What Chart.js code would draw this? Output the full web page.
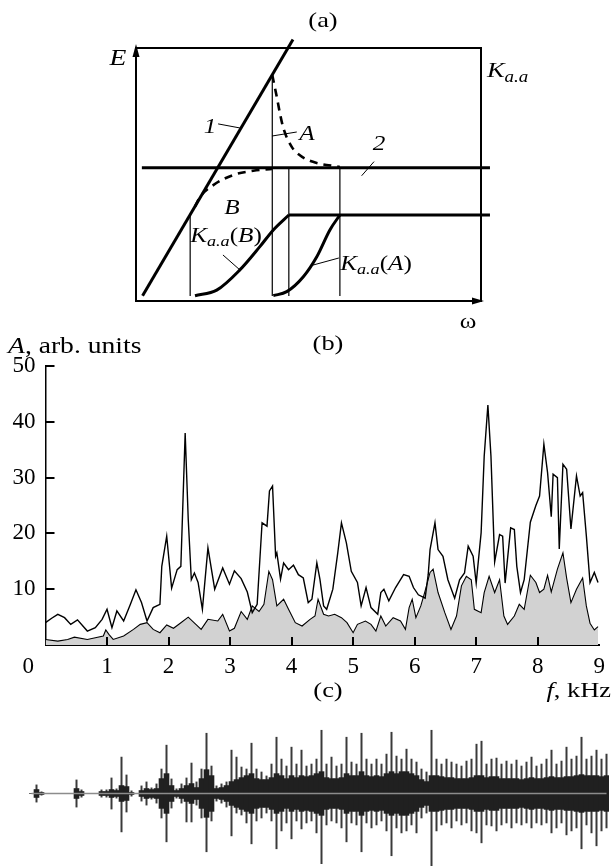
<!DOCTYPE html>
<html><head><meta charset="utf-8">
<script src="https://cdn.jsdelivr.net/npm/chart.js@4.4.1/dist/chart.umd.min.js"></script>
<style>
html,body{margin:0;padding:0;background:#fff;}
#page{position:relative;width:613px;height:867px;overflow:hidden;background:#fff;font-family:'Liberation Serif','Times New Roman',serif;color:#000;}
canvas{position:absolute;left:0;}
.lbl{position:absolute;font-size:21px;line-height:1;white-space:nowrap;transform:translate(-50%,-50%) scaleX(1.2);}
.lbl.l{transform:translate(0,-50%) scaleX(1.2);transform-origin:left center;}
.lbl.r{transform:translate(-100%,-50%) scaleX(1.2);transform-origin:right center;}
.lbl sub{font-size:0.72em;vertical-align:-0.3em;line-height:0;}
</style></head><body>
<div id="page">
<canvas id="ca" width="613" height="330" style="top:0"></canvas>
<canvas id="cb" width="613" height="380" style="top:340px"></canvas>
<canvas id="cc" width="613" height="147" style="top:720px"></canvas>

<div class="lbl" style="left:323px;top:20px;font-size:22px">(a)</div>
<div class="lbl" style="left:118px;top:57px;font-size:23px"><i>E</i></div>
<div class="lbl l" style="left:487px;top:70px;font-size:22px"><i>K</i><sub><i>a.a</i></sub></div>
<div class="lbl" style="left:468px;top:321px">ω</div>
<div class="lbl" style="left:210px;top:126px"><i>1</i></div>
<div class="lbl" style="left:307px;top:133px"><i>A</i></div>
<div class="lbl" style="left:379px;top:143px"><i>2</i></div>
<div class="lbl" style="left:232px;top:207px"><i>B</i></div>
<div class="lbl" style="left:226px;top:235px"><i>K</i><sub><i>a.a</i></sub>(<i>B</i>)</div>
<div class="lbl" style="left:376px;top:263px"><i>K</i><sub><i>a.a</i></sub>(<i>A</i>)</div>
<div class="lbl" style="left:328px;top:343px;font-size:22px">(b)</div>
<div class="lbl l" style="left:8px;top:345px;font-size:23px"><i>A</i>, arb. units</div>
<div class="lbl" style="left:328px;top:690px;font-size:22px">(c)</div>
<div class="lbl r" style="left:611px;top:690px;font-size:22px"><i>f</i>, kHz</div>
</div>
<script>
// ---------- Panel (a): schematic, arbitrary units 0..100 ----------
const schemeLine1   = [[1.9,2.1],[45.5,103.4]];
const schemeLevel2  = [[1.7,52.7],[102.6,52.7]];
const schemeKLevel  = [[44.3,34],[102.6,34]];
const schemeDrop1   = [[15.7,34.2],[15.7,2]];
const schemeDrop2   = [[39.5,89.4],[39.5,2]];
const schemeDrop3   = [[44.3,52.7],[44.3,2]];
const schemeDrop4   = [[59.1,52.7],[59.1,2]];
const schemeDashA   = [[39.5,89.3],[40.8,80.7],[41.7,74.3],[42.7,68.4],[45.1,61],[47.5,57.6],[51.3,55],[59.1,53]];
const schemeDashB   = [[17.1,37.3],[18.6,41.2],[22.4,45.8],[28.2,49.8],[34,51.5],[39.4,52.2]];
const schemeKB      = [[17.1,2.1],[23.4,4.3],[30.1,12.3],[35.9,21.5],[39.8,28.1],[44.3,34]];
const schemeKA      = [[39.8,2.1],[43.7,3.7],[48.5,9.6],[52.4,17.5],[56.2,28.1],[59.1,34]];
const leader1  = [[23.8,70],[30.1,68.4]];
const leaderA  = [[39.4,65.2],[46.6,66.8]];
const leader2  = [[65.4,49.5],[69,55.1]];
const leaderKB = [[25.2,18.2],[30.1,12.3]];
const leaderKA = [[51.3,14.2],[58.8,17]];

// ---------- Panel (b): spectra ----------
const specUpperF = [0.00,0.10,0.20,0.31,0.41,0.52,0.68,0.81,0.92,1.00,1.08,1.16,1.27,1.38,1.47,1.56,1.65,1.75,1.86,1.89,1.97,2.05,2.14,2.20,2.27,2.32,2.37,2.42,2.48,2.55,2.64,2.75,2.88,2.99,3.07,3.18,3.28,3.36,3.44,3.52,3.60,3.64,3.69,3.74,3.76,3.82,3.87,3.95,4.03,4.11,4.19,4.27,4.33,4.41,4.46,4.52,4.57,4.67,4.75,4.81,4.89,4.97,5.07,5.13,5.21,5.29,5.40,5.45,5.50,5.58,5.69,5.82,5.91,5.98,6.06,6.17,6.22,6.25,6.33,6.38,6.46,6.54,6.65,6.73,6.81,6.87,6.95,7.00,7.08,7.13,7.19,7.24,7.30,7.38,7.43,7.47,7.56,7.62,7.66,7.72,7.78,7.88,7.97,8.03,8.10,8.16,8.22,8.25,8.32,8.35,8.41,8.47,8.54,8.63,8.69,8.73,8.79,8.85,8.92,8.98];
const specUpperA = [4.0,4.8,5.5,4.9,3.7,4.5,2.5,3.1,4.6,6.4,3.1,6.1,4.3,7.3,9.9,7.6,4.3,6.7,7.3,14.1,19.5,10.2,13.5,14.1,38.0,22.5,11.7,12.9,11.2,6.4,17.4,10.0,13.8,10.9,13.3,11.9,9.5,5.8,7.3,21.9,21.3,27.6,28.5,15.9,16.5,11.8,14.7,13.5,14.3,12.6,12.0,7.6,8.2,14.7,11.8,7.0,6.4,10.0,16.5,21.9,18.3,13.2,11.2,7.0,10.3,6.7,5.5,9.4,10.0,7.9,10.3,12.6,12.3,10.3,9.0,8.4,12.6,17.1,21.9,17.1,15.9,11.7,8.4,11.7,12.9,17.7,15.9,11.1,20.1,33.8,43.0,33.8,14.9,19.8,19.5,11.1,21.0,20.7,14.1,9.4,11.7,22.0,25.0,26.7,36.0,30.9,23.0,30.6,30.0,17.2,32.4,31.5,20.8,30.3,26.7,27.3,19.6,11.2,13.0,11.2];
const specLowerF = [0.00,0.20,0.36,0.47,0.68,0.81,0.94,0.98,1.03,1.10,1.27,1.43,1.54,1.65,1.75,1.86,1.97,2.08,2.19,2.32,2.53,2.64,2.80,2.88,2.99,3.07,3.18,3.28,3.36,3.47,3.55,3.63,3.69,3.76,3.87,3.95,4.06,4.17,4.30,4.38,4.43,4.52,4.60,4.70,4.81,4.90,5.00,5.07,5.20,5.29,5.37,5.45,5.53,5.65,5.77,5.85,5.91,5.96,6.02,6.10,6.17,6.25,6.30,6.38,6.49,6.59,6.68,6.76,6.84,6.92,6.97,7.08,7.13,7.21,7.30,7.38,7.45,7.51,7.62,7.70,7.78,7.88,7.97,8.03,8.10,8.16,8.22,8.32,8.41,8.47,8.54,8.63,8.73,8.79,8.85,8.92,8.98];
const specLowerA = [1.0,0.7,1.0,1.4,1.0,1.3,1.6,2.7,1.9,1.0,1.6,2.8,3.7,4.0,2.8,2.2,3.6,3.0,3.9,5.0,2.8,4.6,4.3,5.5,2.5,3.0,6.0,4.6,7.0,6.0,7.3,13.2,11.7,7.0,8.2,6.4,4.0,3.4,4.6,5.2,8.2,5.5,5.2,5.5,4.9,4.0,2.2,3.7,4.3,3.7,2.5,5.2,3.4,4.9,4.3,2.8,6.7,8.2,4.9,7.0,9.7,13.0,13.6,9.4,5.8,2.8,5.2,10.6,12.3,11.7,6.4,5.8,9.4,12.3,9.4,11.7,5.2,3.7,5.2,7.3,6.4,12.5,11.2,9.4,10.0,12.5,9.5,13.6,16.5,12.0,7.6,10.0,12.0,7.0,3.9,2.7,3.3];
const specXTicks = [0,1,2,3,4,5,6,7,8,9];
const specYTicks = [10,20,30,40,50];

// ---------- Panel (c): waveform envelope (116 time bins) ----------
const waveUp   = [0,9,2,0,0,0,0,0,0,14,4,0,0,0,4,4,16,5,37,19,3,0,8,12,6,10,25,49,15,5,10,16,31,12,25,61,28,8,10,12,44,37,27,25,51,25,22,18,30,57,35,28,47,30,44,28,30,35,64,30,37,28,30,57,32,30,61,35,30,35,30,40,62,38,35,45,35,32,25,22,64,35,30,35,32,30,28,33,35,50,53,30,35,36,30,33,30,34,28,32,37,28,30,35,44,30,33,47,35,38,57,35,38,44,35,40];
const waveDown = [0,9,2,0,0,0,0,0,0,14,4,0,0,0,4,4,16,5,39,19,3,0,8,12,6,10,25,49,15,5,10,29,29,12,25,59,28,8,10,14,43,20,22,30,51,28,25,20,28,56,38,30,46,28,36,30,28,40,71,32,28,30,35,49,30,32,59,30,35,32,28,38,63,35,40,38,32,40,25,20,73,38,32,30,35,28,32,30,38,40,50,32,33,38,32,30,35,30,32,30,35,30,32,30,40,35,30,42,38,35,56,32,40,53,38,35];
const waveCore = [0,4,1,0,0,0,0,0,0,5,2,0,0,0,2,2,4,3,8,7,1,0,3,5,4,5,15,20,8,3,5,8,10,6,15,24,18,5,6,8,12,14,16,18,20,15,14,14,16,20,18,15,18,16,18,17,18,20,22,16,15,15,16,20,18,18,22,18,17,18,17,20,22,20,22,22,20,18,14,12,18,18,17,16,16,15,15,15,16,18,18,16,17,17,15,15,15,15,14,15,16,15,15,16,17,16,16,17,17,18,19,18,18,18,17,18];

const FONT = "'Liberation Serif','Times New Roman',serif";
Chart.defaults.font.family = FONT;
Chart.defaults.color = '#000';

function seg(points, width, dash, smooth){
  return {data: points.map(p=>({x:p[0],y:p[1]})), showLine:true, borderColor:'#000',
    borderWidth:width, borderDash:dash||[], pointRadius:0, fill:false, clip:false,
    tension: smooth?0.4:0, cubicInterpolationMode: smooth?'monotone':'default', borderCapStyle:'butt'};
}

const frameA = {id:'frameA', afterDatasetsDraw(chart){
  const {ctx, chartArea:a} = chart;
  ctx.save(); ctx.strokeStyle='#000'; ctx.fillStyle='#000'; ctx.lineWidth=2;
  ctx.strokeRect(a.left, a.top, a.right-a.left, a.bottom-a.top);
  ctx.beginPath(); ctx.moveTo(a.left, a.top-4); ctx.lineTo(a.left-3.5, a.top+9); ctx.lineTo(a.left+3.5, a.top+9); ctx.closePath(); ctx.fill();
  ctx.beginPath(); ctx.moveTo(a.right+3, a.bottom); ctx.lineTo(a.right-9, a.bottom-3.5); ctx.lineTo(a.right-9, a.bottom+3.5); ctx.closePath(); ctx.fill();
  ctx.restore();
}};

new Chart(document.getElementById('ca'), {
  type:'scatter',
  data:{datasets:[
    seg(schemeLine1,3), seg(schemeLevel2,3), seg(schemeKLevel,3),
    seg(schemeDrop1,1.2), seg(schemeDrop2,1.2), seg(schemeDrop3,1.2), seg(schemeDrop4,1.2),
    seg(schemeDashA,2.6,[8,6],true), seg(schemeDashB,2.6,[8,6],true),
    seg(schemeKB,3,null,true), seg(schemeKA,3,null,true),
    seg(leader1,1), seg(leaderA,1), seg(leader2,1), seg(leaderKB,1), seg(leaderKA,1)
  ]},
  options:{responsive:false, animation:false, devicePixelRatio:1,
    layout:{padding:{left:136,right:132,top:48,bottom:29}},
    plugins:{legend:{display:false}, tooltip:{enabled:false}},
    scales:{x:{type:'linear',min:0,max:100,display:false}, y:{min:0,max:100,display:false}}
  },
  plugins:[frameA]
});

const innerTicks = {id:'innerTicks', afterDraw(chart){
  const {ctx} = chart; const xs = chart.scales.x, ys = chart.scales.y;
  ctx.save(); ctx.strokeStyle='#000'; ctx.lineWidth=2;
  specYTicks.forEach(v=>{ const y=Math.round(ys.getPixelForValue(v)); ctx.beginPath(); ctx.moveTo(xs.left, y); ctx.lineTo(xs.left+9, y); ctx.stroke(); });
  specXTicks.slice(1,-1).forEach(v=>{ const x=Math.round(xs.getPixelForValue(v)); ctx.beginPath(); ctx.moveTo(x, ys.bottom); ctx.lineTo(x, ys.bottom-8); ctx.stroke(); });
  ctx.restore();
}};

new Chart(document.getElementById('cb'), {
  type:'scatter',
  data:{datasets:[
    {data: specUpperF.map((f,i)=>({x:f,y:specUpperA[i]})), showLine:true, borderColor:'#000', borderWidth:1.4, pointRadius:0, fill:false, tension:0, order:0},
    {data: specLowerF.map((f,i)=>({x:f,y:specLowerA[i]})), showLine:true, borderColor:'#000', borderWidth:1.1, pointRadius:0, fill:'origin', backgroundColor:'#d2d2d2', tension:0, order:1}
  ]},
  options:{responsive:false, animation:false, devicePixelRatio:1,
    layout:{padding:{left:0,right:7,top:26,bottom:0}},
    plugins:{legend:{display:false}, tooltip:{enabled:false}},
    scales:{
      x:{type:'linear', min:0, max:9, grid:{display:false, drawTicks:false},
         border:{display:true, color:'#000', width:2},
         afterBuildTicks(s){ s.ticks = specXTicks.map(v=>({value:v})); },
         ticks:{padding:8, color:'#000', font:{family:FONT,size:23}, maxRotation:0, autoSkip:false,
                callback:v=> v===0 ? '0\u2007\u2007\u2007' : String(v)},
         afterFit(s){ s.height = 75; }},
      y:{min:0, max:50, grid:{display:false, drawTicks:false},
         border:{display:true, color:'#000', width:1.5},
         afterBuildTicks(s){ s.ticks = specYTicks.map(v=>({value:v})); },
         ticks:{padding:10, color:'#000', font:{family:FONT,size:23}},
         afterFit(s){ s.width = 45.5; }}
    }
  },
  plugins:[innerTicks]
});

new Chart(document.getElementById('cc'), {
  type:'bar',
  data:{labels: waveUp.map((_,i)=>String(i)), datasets:[
    {type:'line', data: waveUp.map(()=>0), borderColor:'#8c8c8c', borderWidth:1.6, pointRadius:0, order:0},
    {data: waveUp.map((u,i)=>[-waveDown[i], u]), backgroundColor:'#3a3a3a', barPercentage:0.4, categoryPercentage:1, grouped:false, order:2},
    {data: waveCore.map(c=>[-c, c]), backgroundColor:'#202020', barPercentage:1, categoryPercentage:1, grouped:false, order:1}
  ]},
  options:{responsive:false, animation:false, devicePixelRatio:1,
    layout:{padding:{left:29,right:4,top:0,bottom:0}},
    plugins:{legend:{display:false}, tooltip:{enabled:false}},
    scales:{x:{display:false, offset:true}, y:{min:-74, max:74, display:false}}
  }
});
</script>
</body></html>
